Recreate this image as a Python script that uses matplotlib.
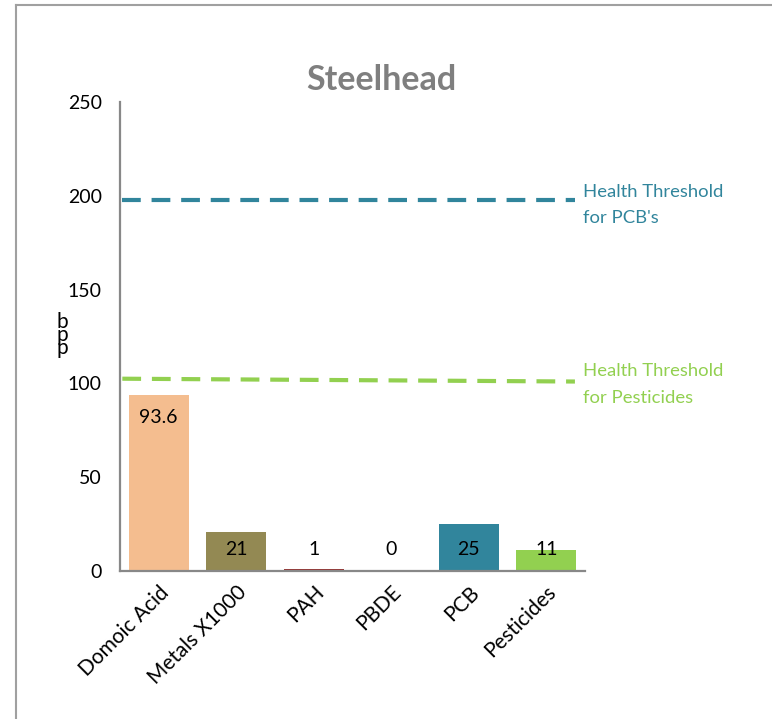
import matplotlib

matplotlib.use("Agg")
import matplotlib.pyplot as plt
from matplotlib.lines import Line2D

# chart values
categories = ["Domoic Acid", "Metals X1000", "PAH", "PBDE", "PCB", "Pesticides"]
values = [93.6, 21, 1, 0, 25, 11]
value_labels = ["93.6", "21", "1", "0", "25", "11"]
bar_colors = ["#F4BD8F", "#938953", "#953735", "#4F81BD", "#31859C", "#92D050"]
yticks = [0, 50, 100, 150, 200, 250]
pcb_threshold = [198, 198]          # start, end
pesticide_threshold = [102.5, 101]  # start, end (drawn slightly sloped)

plt.rcParams["font.family"] = ["Lato", "DejaVu Sans"]

fig = plt.figure(figsize=(7.72, 7.19), dpi=100)
ax = fig.add_axes([120 / 772, 1 - 571 / 719, 465 / 772, (571 - 102) / 719])

x = range(len(categories))
ax.bar(x, values, width=0.77, color=bar_colors)

# value labels: inside the top of tall bars, at a fixed low spot for short ones
for i, (v, lab) in enumerate(zip(values, value_labels)):
    ypos = v - 12 if v > 30 else 11.7
    ax.text(i, ypos, lab, ha="center", va="center", fontsize=14, color="black")

# threshold lines
x0, x1 = -0.47, 5.37
ax.plot([x0, x1], pcb_threshold, color="#31859C", lw=3, ls=(0, (4.5, 2.6)),
        dash_capstyle="butt")
ax.plot([x0, x1], pesticide_threshold, color="#92D050", lw=3, ls=(0, (4.5, 2.6)),
        dash_capstyle="butt")
ax.annotate("Health Threshold\nfor PCB's", xy=(0.995, pcb_threshold[1]),
            xycoords=("axes fraction", "data"), xytext=(0, -4),
            textcoords="offset points", ha="left", va="center",
            fontsize=13.3, color="#31859C", linespacing=1.8,
            annotation_clip=False)
ax.annotate("Health Threshold\nfor Pesticides", xy=(0.995, pesticide_threshold[1]),
            xycoords=("axes fraction", "data"), xytext=(0, -2),
            textcoords="offset points", ha="left", va="center",
            fontsize=13.3, color="#92D050", linespacing=1.8,
            annotation_clip=False)

ax.set_xlim(-0.5, 5.5)
ax.set_ylim(0, 250)
ax.set_yticks(yticks)
ax.set_xticks(list(x))
ax.set_xticklabels(categories, rotation=45, ha="right", va="top",
                   rotation_mode="anchor")
ax.tick_params(axis="both", length=0, labelsize=14)
ax.tick_params(axis="x", labelsize=15, pad=8)
ax.tick_params(axis="y", pad=13)

for side in ("top", "right"):
    ax.spines[side].set_visible(False)
for side in ("left", "bottom"):
    ax.spines[side].set_color("#888888")
    ax.spines[side].set_linewidth(1.6)

# title sits a bit right of the plot centre, as in the original
fig.text(381 / 772, 1 - 80 / 719, "Steelhead", ha="center", va="center",
         fontsize=24.5, fontweight="bold", color="#7F7F7F")
fig.text(62 / 772, 1 - 335 / 719, "b\np\np", ha="center", va="center",
         fontsize=15, linespacing=0.55)

# outer frame of the chart area
fig.add_artist(Line2D([16 / 772, 16 / 772], [0, 1 - 5 / 719], color="#A0A0A0", lw=1.5))
fig.add_artist(Line2D([16 / 772, 1], [1 - 5 / 719, 1 - 5 / 719], color="#A0A0A0", lw=1.5))

fig.savefig("out.png", dpi=100)
